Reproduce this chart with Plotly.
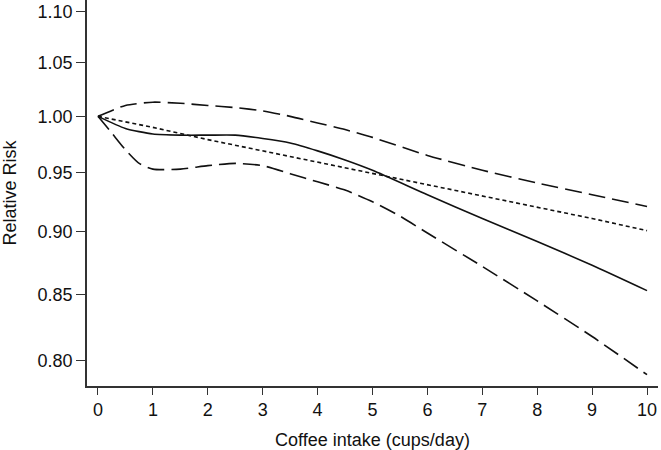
import plotly.graph_objects as go
import math

# Data
x_est = [0, 0.5, 1, 1.5, 2, 2.5, 3, 3.5, 4, 4.5, 5, 6, 7, 8, 9, 10]
rr_est = [1.000, 0.989, 0.984, 0.983, 0.983, 0.983, 0.980, 0.976, 0.969, 0.961, 0.952, 0.931, 0.911, 0.892, 0.873, 0.853]

x_lin = [0, 1, 2, 3, 4, 5, 6, 7, 8, 9, 10]
rr_lin = [1.000, 0.990, 0.979, 0.969, 0.959, 0.949, 0.939, 0.930, 0.920, 0.911, 0.901]

x_up = [0, 0.5, 1, 1.5, 2, 2.5, 3, 3.5, 4, 4.5, 5, 6, 7, 8, 9, 10]
rr_up = [1.000, 1.010, 1.013, 1.012, 1.010, 1.008, 1.005, 1.000, 0.994, 0.988, 0.981, 0.965, 0.952, 0.941, 0.931, 0.921]

x_lo = [0, 0.25, 0.5, 0.75, 1, 1.5, 2, 2.5, 3, 3.5, 4, 4.5, 5, 5.5, 6, 7, 8, 9, 10]
rr_lo = [1.000, 0.985, 0.970, 0.958, 0.953, 0.953, 0.956, 0.958, 0.956, 0.949, 0.942, 0.935, 0.925, 0.913, 0.899, 0.872, 0.845, 0.818, 0.790]

y_ticks = [0.80, 0.85, 0.90, 0.95, 1.00, 1.05, 1.10]
x_ticks = list(range(0, 11))

fig = go.Figure()
line_col = "#111111"
fig.add_trace(go.Scatter(x=x_up, y=rr_up, mode="lines", line=dict(color=line_col, width=1.6, dash="17px,7px", shape="spline", smoothing=0.6)))
fig.add_trace(go.Scatter(x=x_lo, y=rr_lo, mode="lines", line=dict(color=line_col, width=1.6, dash="17px,7px", shape="spline", smoothing=0.6)))
fig.add_trace(go.Scatter(x=x_lin, y=rr_lin, mode="lines", line=dict(color=line_col, width=1.6, dash="4px,3px")))
fig.add_trace(go.Scatter(x=x_est, y=rr_est, mode="lines", line=dict(color=line_col, width=1.6, shape="spline", smoothing=0.6)))

font_fam = "Liberation Sans, Arial, sans-serif"
fig.update_layout(
    width=661, height=450,
    margin=dict(l=87, r=3, t=0, b=64),
    paper_bgcolor="white", plot_bgcolor="white",
    showlegend=False,
    font=dict(family=font_fam, color="#111111", size=18),
    xaxis=dict(
        range=[-0.2, 10.2], tickvals=x_ticks, ticktext=[str(v) for v in x_ticks],
        showgrid=False, zeroline=False, showline=True, linecolor="#333333", linewidth=1.5,
        ticks="outside", ticklen=7, tickwidth=1.3, tickcolor="#333333",
        tickfont=dict(size=18), automargin=False,
        title=dict(text="Coffee intake (cups/day)", font=dict(size=18), standoff=14),
    ),
    yaxis=dict(
        type="log", range=[math.log10(0.7819), math.log10(1.112)],
        tickvals=y_ticks, ticktext=[f"{v:.2f}" for v in y_ticks],
        showgrid=False, zeroline=False, showline=True, linecolor="#333333", linewidth=1.5,
        ticks="outside", ticklen=9, tickwidth=1.3, tickcolor="#333333",
        tickfont=dict(size=18), automargin=False,
        title=dict(text="Relative Risk", font=dict(size=18), standoff=22),
    ),
)
fig.write_html("out.html", config={"displayModeBar": False},
               post_script="document.body.style.margin='0px';document.body.style.overflow='hidden';")
